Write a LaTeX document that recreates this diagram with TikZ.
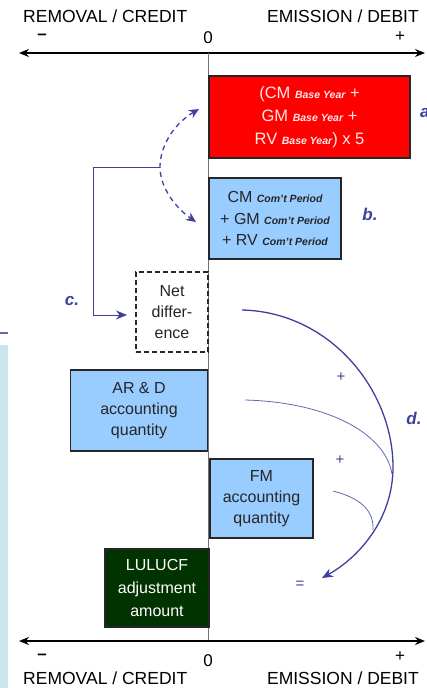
\documentclass[tikz,border=0pt]{standalone}
\usepackage{fontspec}
\setmainfont{Liberation Sans}
\usetikzlibrary{arrows.meta,calc}
\definecolor{indig}{HTML}{3F3F9F}
\definecolor{lblue}{HTML}{99CCFF}
\definecolor{dgreen}{HTML}{003300}
\definecolor{stripc}{HTML}{C8E6EC}
\definecolor{pinkw}{HTML}{FFE8E8}
\newcommand{\subf}[1]{{\fontsize{10.5}{12}\selectfont\bfseries\itshape #1}}
\begin{document}
\begin{tikzpicture}[x=1pt,y=-1pt,
  boxfont/.style={font=\fontsize{16}{21}\selectfont},
  abox/.style={draw=black!85,line width=1.8pt,boxfont,align=center,inner sep=0pt},
  axislbl/.style={font=\fontsize{17.5}{20}\selectfont,inner sep=0pt},
  sign/.style={font=\fontsize{17}{20}\selectfont,inner sep=0pt},
  letter/.style={font=\fontsize{17}{20}\selectfont\bfseries\itshape,text=indig,inner sep=0pt},
  axisarrow/.style={line width=1.3pt,{Stealth[length=10pt,width=8pt]}-{Stealth[length=10pt,width=8pt]}},
  conn/.style={draw=indig,line width=1.3pt},
  thinconn/.style={draw=indig!80,line width=0.8pt}]
\useasboundingbox (0,0) rectangle (426,688);
% left strip
\fill[stripc] (0,345) rectangle (8,688);
\draw[indig!80,line width=2pt] (0,333) -- (8,333);
% axes labels top
\node[axislbl,anchor=base west] (rc1) at (23,22) {REMOVAL / CREDIT};
\node[axislbl,anchor=base east] (ed1) at (419,22) {EMISSION / DEBIT};
\node[sign,font=\fontsize{17}{20}\selectfont\bfseries] (m1) at (42,37) {–};
\node[sign] (z1) at (208,38) {0};
\node[sign] (p1) at (400,37) {+};
\coordinate (tl) at (19,53);
\coordinate (tr) at (425,53);
\draw[axisarrow] (tl) -- (tr);
% bottom axis
\coordinate (bl) at (19,641);
\coordinate (br) at (425,641);
\coordinate (zt) at (208,53);
\coordinate (zb) at (208,641);
\draw[black!55,line width=0.8pt] (zt) -- (zb);
\draw[axisarrow] (bl) -- (br);
\node[sign,font=\fontsize{17}{20}\selectfont\bfseries] (m2) at (42,657) {–};
\node[sign] (z2) at (208,661) {0};
\node[sign] (p2) at (400,657) {+};
\node[axislbl,anchor=base west] (rc2) at (23,684.5) {REMOVAL / CREDIT};
\node[axislbl,anchor=base east] (ed2) at (419,684.5) {EMISSION / DEBIT};
% boxes
\node[abox,fill=red,text=pinkw,minimum width=201pt,minimum height=82pt,font=\fontsize{16.5}{23}\selectfont] (a) at (309.5,117)
  {(CM \subf{Base Year} +\\GM \subf{Base Year} +\\RV \subf{Base Year}) x 5};
\node[abox,fill=lblue,text=black!85,minimum width=132pt,minimum height=81pt,font=\fontsize{16}{21.5}\selectfont] (b) at (275,218.5)
  {CM \subf{Com’t Period}\\+ GM \subf{Com’t Period}\\+ RV \subf{Com’t Period}};
\node[abox,dashed,dash pattern=on 5pt off 3pt,text=black!85,minimum width=72pt,minimum height=80pt] (net) at (172,312)
  {Net\\differ-\\ence};
\node[abox,fill=lblue,text=black!85,minimum width=137pt,minimum height=81pt] (ard) at (139,410.5)
  {AR \& D\\accounting\\quantity};
\node[abox,fill=lblue,text=black!85,minimum width=103pt,minimum height=79pt] (fm) at (261.5,498.5)
  {FM\\accounting\\quantity};
\node[abox,fill=dgreen,text=white,minimum width=104pt,minimum height=78pt,font=\fontsize{16}{23}\selectfont] (lul) at (157,588)
  {LULUCF\\adjustment\\amount};
% letters
\node[letter,anchor=west] (la) at (420,113) {a.};
\node[letter] (lb) at (370,214) {b.};
\node[letter] (lc) at (72,301) {c.};
\node[letter] (ld) at (414,418) {d.};
\node[sign,text=indig,font=\fontsize{15}{18}\selectfont] (pl1) at (341,377) {+};
\node[sign,text=indig,font=\fontsize{15}{18}\selectfont] (pl2) at (340,460) {+};
\node[sign,text=indig,font=\fontsize{15}{18}\selectfont] (eq) at (300,585) {=};
% dashed double arrow between a and b
\coordinate (dtop) at (199,109);
\coordinate (dmid) at (160,167);
\coordinate (dbot) at (196,222);
\draw[conn,dashed,dash pattern=on 5pt off 4pt,{Stealth[length=10pt,width=9pt]}-{Stealth[length=10pt,width=9pt]}]
  (dtop) .. controls (172,125) and (160,148) .. (dmid)
  .. controls (160,188) and (176,208) .. (dbot);
% c bracket
\coordinate (c1) at (93,167);
\coordinate (c2) at (93,315);
\coordinate (cend) at (127,315);
\draw[conn,line width=1pt,-{Stealth[length=11pt,width=9pt]}] (dmid) -- (c1) -- (c2) -- (cend);
% d arcs
\coordinate (s1) at (242,310);
\coordinate (rm) at (393,467);
\coordinate (dend) at (322,578);
\draw[conn,-{Stealth[length=11pt,width=9pt]}] (s1) .. controls (330,312) and (393,390) .. (rm)
  .. controls (393,520) and (358,558) .. (dend);
\coordinate (s2) at (245,400);
\coordinate (e2) at (392,474);
\draw[thinconn] (s2) .. controls (325,402) and (385,432) .. (e2);
\coordinate (s3) at (333,491);
\coordinate (e3) at (373,530);
\draw[thinconn] (s3) .. controls (360,498) and (374,510) .. (e3);
\end{tikzpicture}
\end{document}
